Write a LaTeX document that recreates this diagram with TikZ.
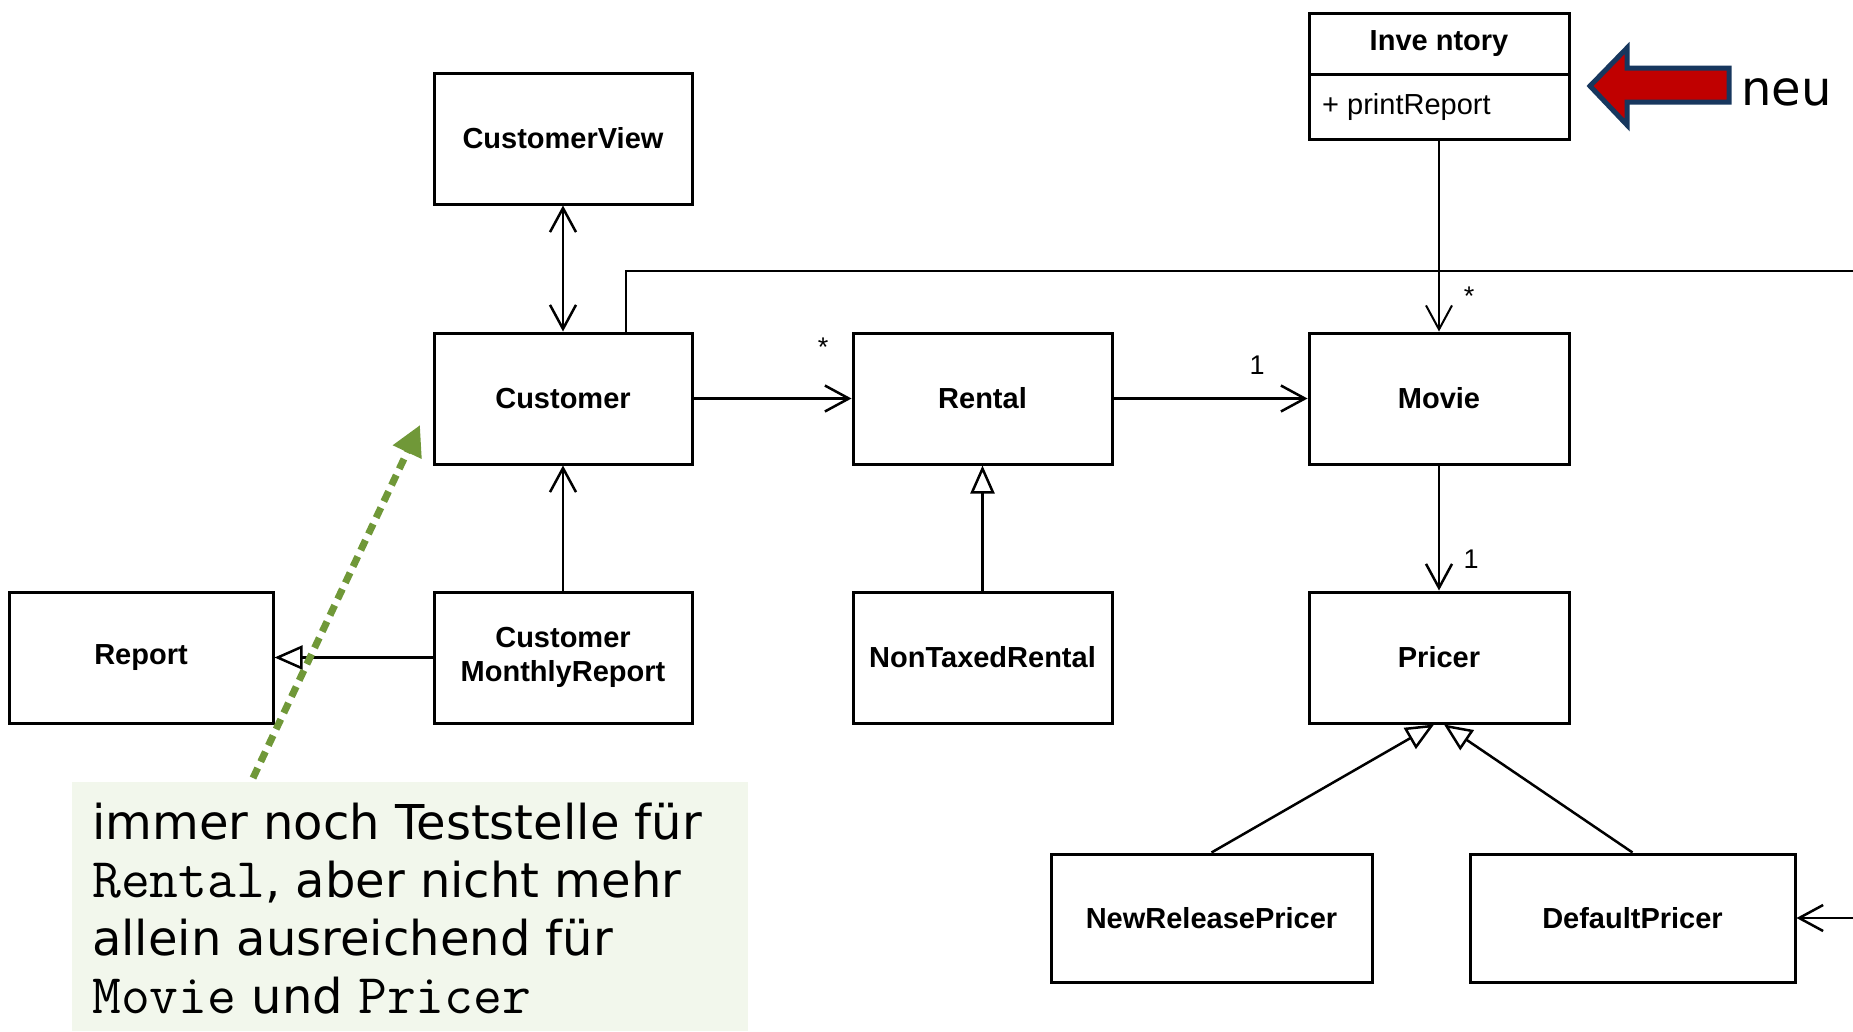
\documentclass[tikz,border=0pt]{standalone}
\usepackage{fontspec}
\setmainfont{Liberation Sans}
\newfontfamily\notefont{DejaVu Sans}
\usetikzlibrary{arrows.meta,calc}
\definecolor{ngreen}{RGB}{112,152,56}
\definecolor{nfill}{RGB}{242,247,236}
\definecolor{nred}{RGB}{192,0,0}
\definecolor{nblue}{RGB}{23,55,94}
\newcommand{\codetxt}[1]{{\ttfamily\fontsize{56}{58}\selectfont #1}}
\begin{document}
\begin{tikzpicture}[x=1pt,y=-1pt,
  cls/.style={draw, line width=3pt, minimum width=258pt, minimum height=131pt, inner sep=0pt, align=center, font=\bfseries\fontsize{29}{34}\selectfont},
  nav/.style={line width=2.5pt, -{Straight Barb[length=24pt,width=26pt]}},
  navboth/.style={line width=2.5pt, {Straight Barb[length=24pt,width=26pt]}-{Straight Barb[length=24pt,width=26pt]}},
  gen/.style={line width=2.5pt, -{Triangle[open,length=28pt,width=24pt,fill=white]}},
  lab/.style={font=\fontsize{27}{30}\selectfont, inner sep=0pt},
  notetext/.style={font=\notefont\fontsize{48}{58}\selectfont, inner sep=0pt, align=left, anchor=north west},
  greenarrow/.style={draw=ngreen, line width=7pt, dash pattern=on 11pt off 7pt, -{Triangle[length=30pt,width=30pt,fill=ngreen]}}
]
\useasboundingbox (0,0) rectangle (1853,1031);

% classes
\node[cls] (cv) at (563,138.5) {CustomerView};
\node[cls] (cust) at (563,398.5) {Customer};
\node[cls] (cmr) at (563,657.5) {Customer\\MonthlyReport};
\node[cls, minimum width=264pt] (rep) at (141,657.5) {Report};
\node[cls, minimum width=259pt] (rent) at (982.5,398.5) {Rental};
\node[cls, minimum width=259pt] (ntr) at (982.5,657.5) {NonTaxedRental};
\node[cls, minimum width=260pt] (movie) at (1439,398.5) {Movie};
\node[cls, minimum width=260pt] (pricer) at (1439,657.5) {Pricer};
\node[cls, minimum width=321pt, minimum height=128pt] (nrp) at (1211.5,918) {NewReleasePricer};
\node[cls, minimum width=325pt, minimum height=128pt] (dp) at (1632.5,918) {DefaultPricer};

% Inventory
\node[cls, minimum width=260pt, minimum height=61pt] (invt) at (1439,43.5) {Inve ntory};
\node[cls, minimum width=260pt, minimum height=65pt] (inva) at (1439,106.5) {};
\node[anchor=west, inner sep=0pt, font=\fontsize{29}{34}\selectfont] (invattr) at (1322,106.5) {+ printReport};

% connectors
\draw[navboth] (cv.south) -- (cust.north);
\draw[nav] (cmr.north) -- (cust.south);
\draw[gen] (cmr.west) -- (rep.east);
\draw[nav] (cust.east) -- (rent.west);
\draw[gen] (ntr.north) -- (rent.south);
\draw[nav] (rent.east) -- (movie.west);
\draw[nav] (movie.south) -- (pricer.north);
\draw[line width=2pt, -{Straight Barb[length=24pt,width=26pt]}] (inva.south) -- (movie.north);
\draw[gen] (nrp.north) -- ($(pricer.south)+(-5,0)$);
\draw[gen] (dp.north) -- ($(pricer.south)+(5,0)$);
\coordinate (topright) at (1853,271);
\draw[line width=2.5pt] ($(cust.north)+(63,0)$) |- (topright);
\coordinate (dpin) at (1853,918);
\draw[nav] (dpin) -- (dp.east);

% multiplicities
\node[lab] (m1) at (823,347) {*};
\node[lab] (m2) at (1257,365) {1};
\node[lab] (m3) at (1469,296) {*};
\node[lab] (m4) at (1471,559) {1};

% red "neu" arrow
\draw[draw=nblue, fill=nred, line width=5pt, line join=miter]
  (1590,86) -- (1627,48) -- (1627,68) -- (1729,68) -- (1729,102) -- (1627,102) -- (1627,125) -- cycle;
\node[anchor=west, inner sep=0pt, font=\notefont\fontsize{48}{58}\selectfont] (neu) at (1741,92) {neu};

% note
\fill[nfill] (72,782) rectangle (748,1031);
\node[notetext] (note) at (92,803) {immer noch Teststelle für\\\codetxt{Rental}, aber nicht mehr\\allein ausreichend für\\\codetxt{Movie} und \codetxt{Pricer}};
\coordinate (gs) at (253,778);
\coordinate (ge) at (420,425);
\draw[greenarrow] (gs) -- (ge);
\end{tikzpicture}
\end{document}
